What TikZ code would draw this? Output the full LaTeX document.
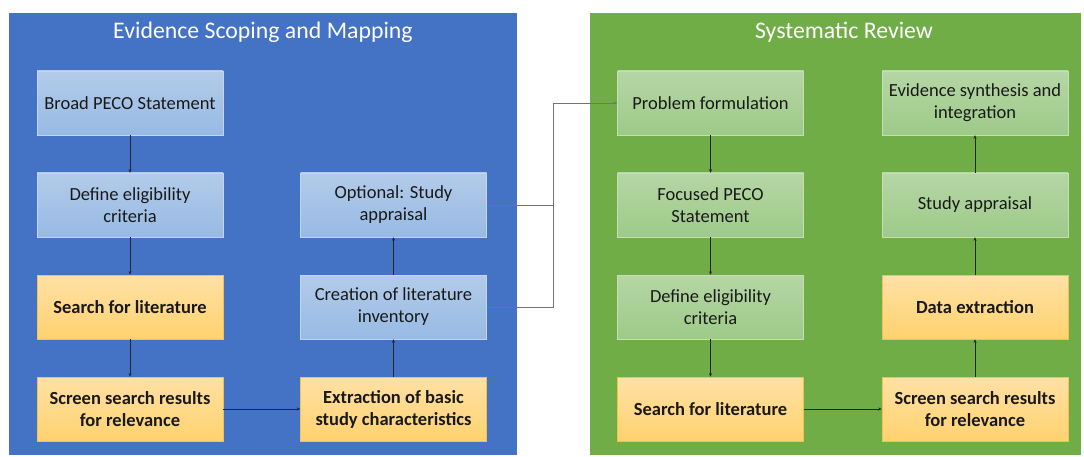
\documentclass[tikz,border=0pt]{standalone}
\usepackage{fontspec}
\setmainfont{Carlito}
\usetikzlibrary{arrows.meta, positioning}
\definecolor{panelblue}{HTML}{4472C4}
\definecolor{panelgreen}{HTML}{70AD47}
\definecolor{bluetop}{HTML}{B3CBE9}
\definecolor{bluebot}{HTML}{97BAE4}
\definecolor{greentop}{HTML}{B5D6A5}
\definecolor{greenbot}{HTML}{9ECA89}
\definecolor{goldtop}{HTML}{FFE1A6}
\definecolor{goldbot}{HTML}{FFD26E}
\definecolor{goldedge}{HTML}{F2C14E}

\begin{document}
\begin{tikzpicture}[x=1pt, y=-1pt,
    box/.style={minimum width=186pt, minimum height=64pt, inner sep=2pt,
        align=center, text=black!90, font=\fontsize{18.5}{22}\selectfont},
    bluebox/.style={box, top color=bluetop, bottom color=bluebot, draw=bluetop!80!white, line width=0.4pt},
    greenbox/.style={box, top color=greentop, bottom color=greenbot, draw=greentop!80!white, line width=0.4pt},
    goldbox/.style={box, top color=goldtop, bottom color=goldbot, draw=goldedge, line width=0.6pt,
        font=\fontsize{18.5}{22}\selectfont\bfseries},
    title/.style={text=white, font=\fontsize{23.8}{26}\selectfont},
    arr/.style={-{Stealth[length=3.5pt,width=3pt]}, line width=0.6pt, black!85},
    link/.style={line width=0.7pt, black!55}]
    \useasboundingbox (0,0) rectangle (1084,457);

    % Panels
    \fill[panelblue] (9,13) rectangle (517,455);
    \fill[panelgreen] (590,13) rectangle (1081,455);
    \node[title] (tscope) at (263,32.5) {Evidence Scoping and Mapping};
    \node[title] (treview) at (844,32.5) {Systematic Review};

    % Evidence scoping and mapping
    \node[bluebox] (peco) at (130,103) {Broad PECO Statement};
    \node[bluebox] (elig) at (130,205) {Define eligibility\\criteria};
    \node[goldbox] (search) at (130,307) {Search for literature};
    \node[goldbox] (screen) at (130,409) {Screen search results\\for relevance};
    \node[goldbox] (extract) at (393.5,409) {Extraction of basic\\study characteristics};
    \node[bluebox] (inv) at (393.5,307) {Creation of literature\\inventory};
    \node[bluebox] (opt) at (393.5,205) {Optional: Study\\appraisal};

    \draw[arr] (peco) -- (elig);
    \draw[arr] (elig) -- (search);
    \draw[arr] (search) -- (screen);
    \draw[arr] (screen) -- (extract);
    \draw[arr] (extract) -- (inv);
    \draw[arr] (inv) -- (opt);

    % Systematic review
    \node[greenbox] (prob) at (710.5,103) {Problem formulation};
    \node[greenbox] (fpeco) at (710.5,205) {Focused PECO\\Statement};
    \node[greenbox] (srelig) at (710.5,307) {Define eligibility\\criteria};
    \node[goldbox] (srsearch) at (710.5,409) {Search for literature};
    \node[goldbox] (srscreen) at (975,409) {Screen search results\\for relevance};
    \node[goldbox] (dext) at (975,307) {Data extraction};
    \node[greenbox] (appr) at (975,205) {Study appraisal};
    \node[greenbox] (synth) at (975,103) {Evidence synthesis and\\integration};

    \draw[arr] (prob) -- (fpeco);
    \draw[arr] (fpeco) -- (srelig);
    \draw[arr] (srelig) -- (srsearch);
    \draw[arr] (srsearch) -- (srscreen);
    \draw[arr] (srscreen) -- (dext);
    \draw[arr] (dext) -- (appr);
    \draw[arr] (appr) -- (synth);

    % Link between the two panels
    \coordinate (jn) at (553,0);
    \draw[link] (opt.east) -- (opt.east -| jn);
    \draw[link, arr, black!55] (inv.east) -- (inv.east -| jn) -- (prob.west -| jn) -- (prob.west);
\end{tikzpicture}
\end{document}
